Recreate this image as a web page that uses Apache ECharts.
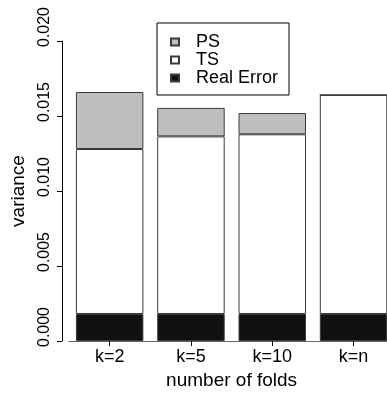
<!DOCTYPE html>
<html>
<head>
<meta charset="utf-8">
<script src="https://cdn.jsdelivr.net/npm/echarts@6/dist/echarts.min.js"></script>
<style>html,body{margin:0;padding:0;background:#fff;}#c{width:387px;height:394px;}</style>
</head>
<body>
<div id="c"></div>
<script>
var categories = ['k=2', 'k=5', 'k=10', 'k=n'];
var realError = [0.0018, 0.0018, 0.0018, 0.0018];
var tsPart = [0.0110, 0.01184, 0.01198, 0.0146];
var psPart = [0.0038, 0.0019, 0.00142, 0];
var yTicks = [0, 0.005, 0.010, 0.015, 0.020];

var FONT = 'Liberation Sans, Arial, Helvetica, sans-serif';
var chart = echarts.init(document.getElementById('c'), null, {renderer: 'canvas'});
var border = '#3a3a3a';
chart.setOption({
  animation: false,
  backgroundColor: '#fff',
  textStyle: {fontFamily: FONT, color: '#000'},
  grid: {left: 69, top: 41, bottom: 53, right: -7.2, containLabel: false, outerBoundsMode: 'none'},
  legend: {
    left: 157, top: 23,
    orient: 'vertical',
    data: ['PS', 'TS', 'Real Error'],
    icon: 'rect',
    itemWidth: 8, itemHeight: 7, itemGap: 0,
    padding: [10, 11, 8, 13],
    borderColor: '#000', borderWidth: 1,
    textStyle: {fontFamily: FONT, fontSize: 18, color: '#000', lineHeight: 17, padding: [0, 0, 0, 12]},
    selectedMode: false
  },
  xAxis: {
    type: 'category',
    data: categories,
    name: 'number of folds',
    nameLocation: 'middle',
    nameGap: 27,
    nameTextStyle: {fontFamily: FONT, fontSize: 19, color: '#000'},
    axisLine: {show: true, lineStyle: {color: '#666', width: 1}},
    axisTick: {show: true, alignWithLabel: true, length: 5, lineStyle: {color: '#000'}},
    axisLabel: {fontFamily: FONT, fontSize: 18, color: '#000', margin: 7},
    splitLine: {show: false}
  },
  yAxis: {
    type: 'value',
    min: yTicks[0], max: yTicks[yTicks.length - 1], interval: 0.005,
    offset: 7,
    name: 'variance',
    nameLocation: 'middle',
    nameGap: 34,
    nameRotate: 90,
    nameTextStyle: {fontFamily: FONT, fontSize: 19, color: '#000'},
    axisLine: {show: true, lineStyle: {color: '#000', width: 1}},
    axisTick: {show: true, length: 5, lineStyle: {color: '#000'}},
    axisLabel: {fontFamily: FONT, fontSize: 16, color: '#000', rotate: 90, margin: 9,
      padding: [0, 0, 0, 28],
      formatter: function (v) { return v.toFixed(3); }},
    splitLine: {show: false}
  },
  series: [
    {name: 'Real Error', type: 'bar', stack: 's', data: realError, barCategoryGap: '17%',
     itemStyle: {color: '#111', borderColor: border, borderWidth: 1}},
    {name: 'TS', type: 'bar', stack: 's', data: tsPart,
     itemStyle: {color: '#fff', borderColor: border, borderWidth: 1}},
    {name: 'PS', type: 'bar', stack: 's', data: psPart,
     itemStyle: {color: '#bebebe', borderColor: border, borderWidth: 1}}
  ]
});
</script>
</body>
</html>
